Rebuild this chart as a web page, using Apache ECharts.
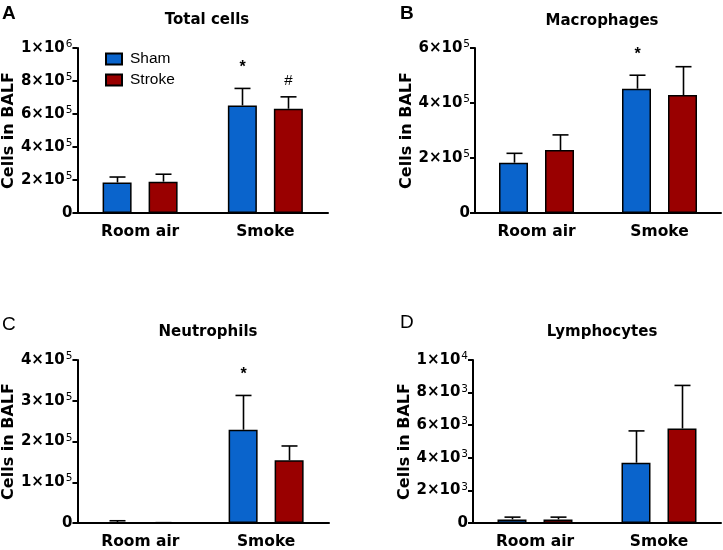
<!DOCTYPE html>
<html><head><meta charset="utf-8">
<script src="https://cdn.jsdelivr.net/npm/echarts@6/dist/echarts.min.js"></script>
<style>html,body{margin:0;padding:0;background:#fff}#c{width:723px;height:550px}</style>
</head><body><div id="c"></div>
<script>
const categories = ['Room air', 'Smoke'];
const seriesNames = ['Sham', 'Stroke'];

// Panel A: Total cells
const shamA = [185000, 652000];
const shamA_sem = [33000, 103000];
const strokeA = [190000, 632000];
const strokeA_sem = [45000, 72000];
const annotA_sham = ['', '*'];
const annotA_stroke = ['', '#'];
const ticksA = ['0', '2×10^5', '4×10^5', '6×10^5', '8×10^5', '1×10^6'];

// Panel B: Macrophages
const shamB = [183000, 452000];
const shamB_sem = [34000, 49000];
const strokeB = [229000, 429000];
const strokeB_sem = [55000, 103000];
const annotB_sham = ['', '*'];
const annotB_stroke = ['', ''];
const ticksB = ['0', '2×10^5', '4×10^5', '6×10^5'];

// Panel C: Neutrophils
const shamC = [1000, 229000];
const shamC_sem = [4500, 84000];
const strokeC = [300, 154000];
const strokeC_sem = [500, 35000];
const annotC_sham = ['', '*'];
const annotC_stroke = ['', ''];
const ticksC = ['0', '1×10^5', '2×10^5', '3×10^5', '4×10^5'];

// Panel D: Lymphocytes
const shamD = [220, 3700];
const shamD_sem = [140, 1950];
const strokeD = [220, 5800];
const strokeD_sem = [140, 2640];
const annotD_sham = ['', ''];
const annotD_stroke = ['', ''];
const ticksD = ['0', '2×10^3', '4×10^3', '6×10^3', '8×10^3', '1×10^4'];

const panels = [
  {title: 'Total cells', letter: 'A', sham: shamA, shamSem: shamA_sem, stroke: strokeA, strokeSem: strokeA_sem, aSham: annotA_sham, aStroke: annotA_stroke, ticks: ticksA, max: 1000000, interval: 200000,
   grid: {left: 76, top: 48, width: 252, height: 165}, titleX: 202, titleY: 8},
  {title: 'Macrophages', letter: 'B', sham: shamB, shamSem: shamB_sem, stroke: strokeB, strokeSem: strokeB_sem, aSham: annotB_sham, aStroke: annotB_stroke, ticks: ticksB, max: 600000, interval: 200000,
   grid: {left: 475, top: 48, width: 246, height: 165}, titleX: 597, titleY: 9},
  {title: 'Neutrophils', letter: 'C', sham: shamC, shamSem: shamC_sem, stroke: strokeC, strokeSem: strokeC_sem, aSham: annotC_sham, aStroke: annotC_stroke, ticks: ticksC, max: 400000, interval: 100000,
   grid: {left: 77, top: 360, width: 252, height: 165}, titleX: 203, titleY: 320},
  {title: 'Lymphocytes', letter: 'D', sham: shamD, shamSem: shamD_sem, stroke: strokeD, strokeSem: strokeD_sem, aSham: annotD_sham, aStroke: annotD_stroke, ticks: ticksD, max: 10000, interval: 2000,
   grid: {left: 473, top: 360, width: 248, height: 165}, titleX: 597, titleY: 320}
];

const FONT = '"DejaVu Sans", sans-serif';
const AFONT = '"Liberation Sans", Arial, sans-serif';
const BLUE = '#0a64cc';
const RED = '#990000';
const BAR_W = 29;
const BAR_GAP = 17;

const chart = echarts.init(document.getElementById('c'), null, {renderer: 'canvas'});

const grids = [], xAxes = [], yAxes = [], series = [], titles = [], graphics = [];

function errRenderer(offset, annots) {
  return function (params, api) {
    const base = api.coord([api.value(0), api.value(1)]);
    const top = api.coord([api.value(0), api.value(2)]);
    const px = Math.round(base[0] + offset) + 0.5;
    const children = [
      {type: 'line', shape: {x1: px, y1: base[1], x2: px, y2: top[1]}, style: {stroke: '#000', lineWidth: 1.6}},
      {type: 'line', shape: {x1: px - 8, y1: top[1], x2: px + 8, y2: top[1]}, style: {stroke: '#000', lineWidth: 1.6}}
    ];
    const t = annots[params.dataIndex];
    if (t) {
      const star = t === '*';
      children.push({type: 'text', x: px, y: top[1] - (star ? 13 : 8), style: {text: t, font: (star ? 'bold 16px ' : '15px ') + AFONT, fill: '#000', align: 'center', verticalAlign: 'bottom'}});
    }
    return {type: 'group', children: children};
  };
}

panels.forEach((p, i) => {
  grids.push(p.grid);
  titles.push({text: p.title, left: p.titleX, top: p.titleY, textAlign: 'center',
    textStyle: {fontFamily: FONT, fontWeight: 'bold', fontSize: 15, color: '#000'}});
  xAxes.push({type: 'category', gridIndex: i, data: categories,
    axisLine: {lineStyle: {color: '#000', width: 2}},
    axisTick: {alignWithLabel: true, length: 4, lineStyle: {color: '#000', width: 2}},
    axisLabel: {color: '#000', fontFamily: FONT, fontWeight: 'bold', fontSize: 15.5, margin: 11},
    splitLine: {show: false}});
  yAxes.push({type: 'value', gridIndex: i, min: 0, max: p.max, interval: p.interval,
    name: 'Cells in BALF', nameLocation: 'middle', nameGap: 59,
    nameTextStyle: {color: '#000', fontFamily: FONT, fontWeight: 'bold', fontSize: 16},
    axisLine: {show: true, lineStyle: {color: '#000', width: 2}},
    axisTick: {show: true, length: 5, lineStyle: {color: '#000', width: 2}},
    splitLine: {show: false},
    axisLabel: {margin: 5, color: '#000',
      formatter: (function (ticks, interval) {
        return function (v) {
          const s = ticks[Math.round(v / interval)];
          if (!s) return '';
          const parts = s.split('^');
          if (parts.length === 1) return '{b|' + parts[0] + '}';
          return '{b|' + parts[0] + '}{s|' + parts[1] + '}';
        };
      })(p.ticks, p.interval),
      rich: {
        b: {fontFamily: FONT, fontWeight: 'bold', fontSize: 15, color: '#000', verticalAlign: 'middle', lineHeight: 18},
        s: {fontFamily: FONT, fontSize: 10.5, color: '#000', verticalAlign: 'top', lineHeight: 10, padding: [0, 0, 0, 1]}
      }}});
  series.push({name: 'Sham', type: 'bar', xAxisIndex: i, yAxisIndex: i, data: p.sham,
    barWidth: BAR_W, barGap: (BAR_GAP / BAR_W * 100) + '%',
    itemStyle: {color: BLUE, borderColor: '#000', borderWidth: 1.5}});
  series.push({name: 'Stroke', type: 'bar', xAxisIndex: i, yAxisIndex: i, data: p.stroke,
    barWidth: BAR_W,
    itemStyle: {color: RED, borderColor: '#000', borderWidth: 1.5}});
  series.push({type: 'custom', xAxisIndex: i, yAxisIndex: i, z: 5,
    data: p.sham.map((v, k) => [k, v, v + p.shamSem[k]]),
    renderItem: errRenderer(-(BAR_W + BAR_GAP) / 2, p.aSham)});
  series.push({type: 'custom', xAxisIndex: i, yAxisIndex: i, z: 5,
    data: p.stroke.map((v, k) => [k, v, v + p.strokeSem[k]]),
    renderItem: errRenderer((BAR_W + BAR_GAP) / 2, p.aStroke)});
});

const letterPos = [[2, 4, 'bold'], [400, 4, 'bold'], [2, 315, 'normal'], [400, 313, 'normal']];
panels.forEach((p, i) => {
  graphics.push({type: 'text', left: letterPos[i][0], top: letterPos[i][1],
    style: {text: p.letter, font: letterPos[i][2] + ' 19px ' + AFONT, fill: '#000'}});
});

chart.setOption({
  animation: false,
  backgroundColor: '#fff',
  title: titles,
  legend: {data: seriesNames, orient: 'vertical', left: 100, top: 46, itemWidth: 16, itemHeight: 11, itemGap: 5,
    icon: 'rect', textStyle: {fontFamily: AFONT, fontSize: 15.5, color: '#000', padding: [0, 0, 0, 3]}},
  grid: grids, xAxis: xAxes, yAxis: yAxes, series: series, graphic: graphics
});
</script></body></html>
